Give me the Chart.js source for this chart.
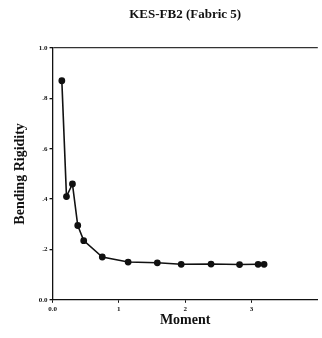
<!DOCTYPE html>
<html>
<head>
<meta charset="utf-8">
<script src="https://cdn.jsdelivr.net/npm/chart.js@4"></script>
<style>
body { margin: 0; background: #fff; }
#wrap { width: 322px; height: 338px; }
</style>
</head>
<body>
<div id="wrap"><canvas id="fb2"></canvas></div>
<script>
// KES-FB2 bending curve
var moment = [0.14, 0.21, 0.30, 0.38, 0.47, 0.75, 1.14, 1.58, 1.94, 2.39, 2.82, 3.10, 3.19];
var rigidity = [0.87, 0.41, 0.46, 0.295, 0.235, 0.17, 0.15, 0.147, 0.141, 0.142, 0.14, 0.141, 0.141];
var yTicks = ['0.0', '.2', '.4', '.6', '.8', '1.0'];
var xTicks = ['0.0', '1', '2', '3', ''];
var chartTitle = 'KES-FB2 (Fabric 5)';

var pts = [];
for (var i = 0; i < moment.length; i++) {
	pts.push({ x: moment[i], y: rigidity[i] });
}

var serif = "'Liberation Serif', 'DejaVu Serif', serif";

// title sits over the plot area, not the whole canvas
var plotTitle = {
	id : 'plotTitle',
	afterDraw : function(c) {
		var a = c.chartArea;
		var g = c.ctx;
		g.save();
		g.fillStyle = '#111';
		g.font = 'bold 13px ' + serif;
		g.textAlign = 'center';
		g.textBaseline = 'middle';
		g.fillText(chartTitle, (a.left + a.right) / 2, 15);
		g.restore();
	}
};

var ctx = document.getElementById('fb2').getContext('2d');
var chart = new Chart(ctx, {
	type : 'scatter',
	data : {
		datasets : [ {
			data : pts,
			showLine : true,
			borderColor : '#111',
			backgroundColor : '#111',
			borderWidth : 1.6,
			pointRadius : 2.6,
			pointHoverRadius : 2.6,
			tension : 0
		} ]
	},
	plugins : [ plotTitle ],
	options : {
		responsive : true,
		maintainAspectRatio : false,
		animation : false,
		layout : { padding : { left : 12, right : 1, top : 48, bottom : 9 } },
		plugins : {
			legend : { display : false },
			tooltip : { enabled : false }
		},
		scales : {
			x : {
				type : 'linear',
				min : 0,
				max : 4,
				border : { color : '#111', width : 1.3 },
				grid : {
					display : true,
					drawOnChartArea : false,
					tickLength : 3,
					tickColor : function(c) { return c.tick && c.tick.value === 4 ? 'rgba(0,0,0,0)' : '#111'; }
				},
				ticks : {
					stepSize : 1,
					color : '#111',
					padding : 2,
					maxRotation : 0,
					font : { family : serif, size : 7, weight : 'bold' },
					callback : function(v) { return xTicks[Math.round(v)]; }
				},
				title : {
					display : true,
					text : 'Moment',
					color : '#111',
					font : { family : serif, size : 14, weight : 'bold' },
					padding : { top : -3, bottom : 0 }
				}
			},
			y : {
				min : 0,
				max : 1,
				border : { color : '#111', width : 1.3 },
				grid : {
					tickLength : 3,
					tickColor : '#111',
					lineWidth : 1.3,
					color : function(c) { return c.tick && c.tick.value === 1 ? '#333' : 'rgba(0,0,0,0)'; }
				},
				ticks : {
					stepSize : 0.2,
					color : '#111',
					padding : 2,
					font : { family : serif, size : 7, weight : 'bold' },
					callback : function(v) { return yTicks[Math.round(v * 5)]; }
				},
				title : {
					display : true,
					text : 'Bending Rigidity',
					color : '#111',
					font : { family : serif, size : 14, weight : 'bold' },
					padding : { top : 0, bottom : 8 }
				}
			}
		}
	}
});
</script>
</body>
</html>
